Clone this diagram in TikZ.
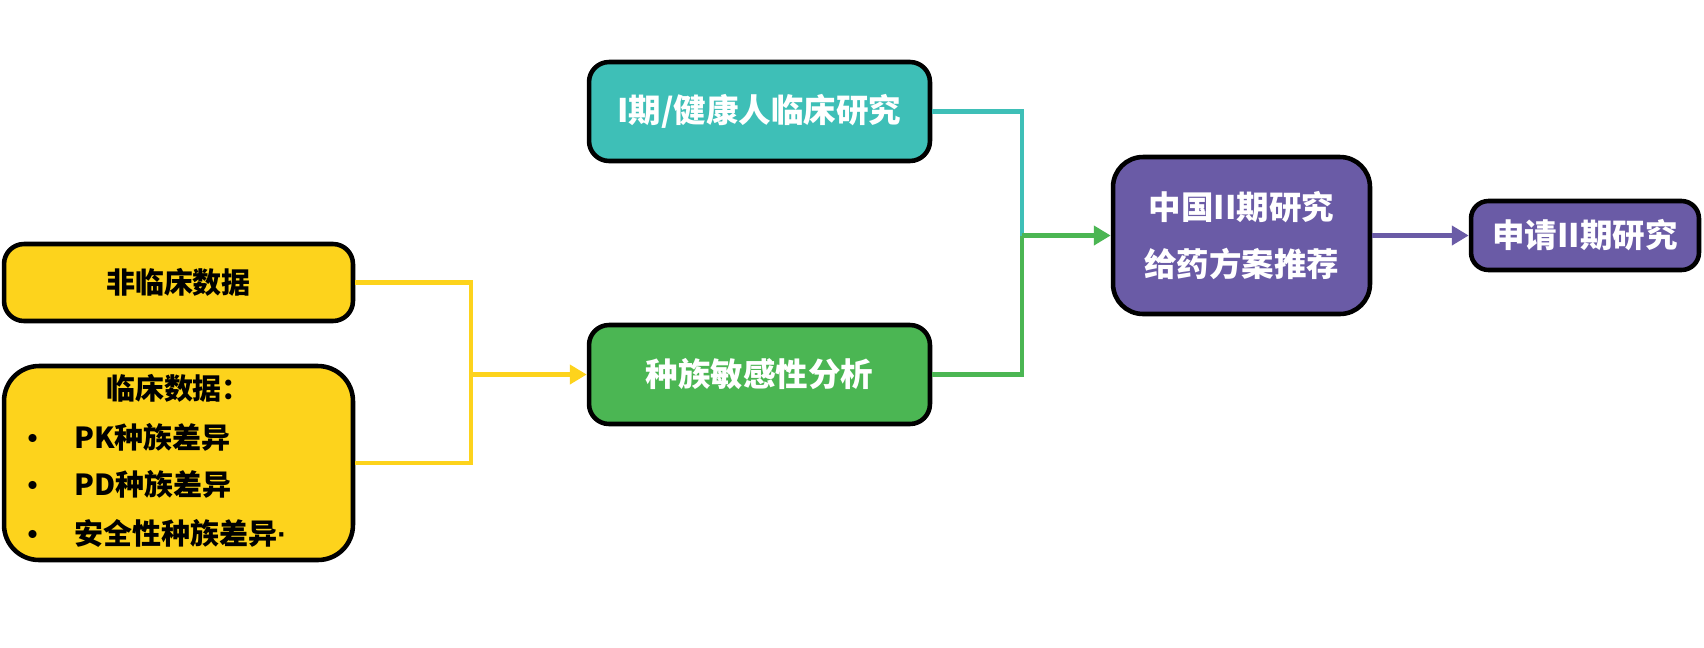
\documentclass[tikz,border=0pt]{standalone}
\usepackage{fontspec}
\setmainfont{Noto Sans CJK SC}
\newfontfamily\dotfont{Liberation Sans}
\usetikzlibrary{arrows.meta}
\definecolor{datayellow}{HTML}{FDD31C}
\definecolor{phaseteal}{HTML}{3EBFB7}
\definecolor{ethgreen}{HTML}{4BB653}
\definecolor{planpurple}{HTML}{6A5BA6}
\begin{document}
\begin{tikzpicture}[x=.02cm,y=-.02cm,
	box/.style={rectangle,rounded corners=.4cm,draw=black,line width=2.6pt,inner sep=0pt,text=white,
		font=\bfseries\fontsize{18.5}{32}\selectfont,align=center},
	databox/.style={box,fill=datayellow,text=black,font=\bfseries\fontsize{16.5}{20}\selectfont},
	txt/.style={inner sep=0pt,text=black,font=\bfseries\fontsize{16.5}{20}\selectfont},
	link/.style={line width=2.8pt},
	tip/.style={-{Triangle[length=.34cm,width=.38cm]}}]
	\useasboundingbox (0,0) rectangle (1704,647);
	\node[databox,minimum width=6.98cm,minimum height=1.54cm] (nonclin) at (178.5,282.5)
		{非临床数据};
	\node[databox,minimum width=6.98cm,minimum height=3.88cm,rounded corners=.7cm] (clin) at (178.5,463)
		{};
	\node[txt] (clinhead) at (178.5,388)
		{临床数据：};
	\node[txt] (dot1) at (33,442) {•};
	\node[txt] (dot2) at (33,489) {•};
	\node[txt] (dot3) at (33,538) {•};
	\node[txt,anchor=west] (pkdiff) at (74,437)
		{PK种族差异};
	\node[txt,anchor=west] (pddiff) at (74,484)
		{PD种族差异};
	\node[txt,anchor=west] (safediff) at (74,533)
		{安全性种族差异{\dotfont\bfseries ·}};
	\node[box,fill=phaseteal,minimum width=6.82cm,minimum height=1.98cm] (phase1) at (759.5,111.5)
		{I期/健康人临床研究};
	\node[box,fill=ethgreen,minimum width=6.82cm,minimum height=1.98cm] (ethsens) at (759.5,374.5)
		{种族敏感性分析};
	\node[box,fill=planpurple,minimum width=5.14cm,minimum height=3.14cm,rounded corners=.6cm] (china) at (1241.5,235.5)
		{中国II期研究\\给药方案推荐};
	\node[box,fill=planpurple,minimum width=4.56cm,minimum height=1.38cm,rounded corners=.35cm] (apply) at (1585,235.5)
		{申请II期研究};
	% joints of the connectors
	\coordinate (yjoin) at (471,374.5);
	\coordinate (gjoin) at (1022,235.5);
	\draw[link,datayellow] (nonclin.east) -| (yjoin);
	\draw[link,datayellow] (clin.east) -| (yjoin);
	\draw[link,datayellow,tip] (yjoin) -- (ethsens.west);
	\draw[link,phaseteal] (phase1.east) -| (gjoin);
	\draw[link,ethgreen] (ethsens.east) -| (gjoin);
	\draw[link,ethgreen,tip] (gjoin) -- (china.west);
	\draw[link,planpurple,tip] (china.east) -- (apply.west);
\end{tikzpicture}
\end{document}
